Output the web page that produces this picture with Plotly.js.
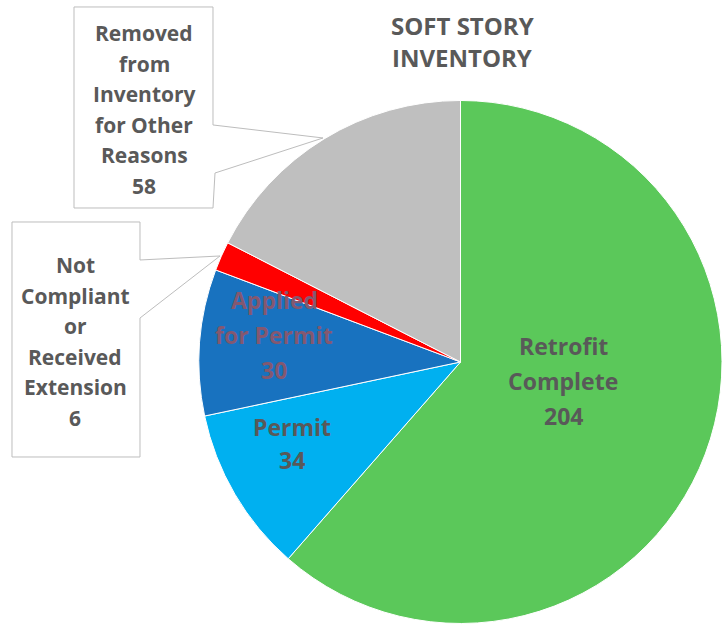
<!DOCTYPE html>
<html>
<head>
<meta charset="utf-8">
<script src="https://cdn.plot.ly/plotly-3.0.1.min.js"></script>
<style>html,body{margin:0;padding:0;background:#fff;}#chart{width:722px;height:628px;}</style>
</head>
<body>
<div id="chart"></div>
<script>
// Data
const categories = ["Retrofit<br>Complete", "Permit", "Applied<br>for Permit", "Not<br>Compliant<br>or<br>Received<br>Extension", "Removed<br>from<br>Inventory<br>for Other<br>Reasons"];
const plainLabels = ["Retrofit Complete", "Permit", "Applied for Permit", "Not Compliant or Received Extension", "Removed from Inventory for Other Reasons"];
const values = [204, 34, 30, 6, 58];
const colors = ["#5BC85A", "#00B0F0", "#1872BF", "#FF0000", "#BFBFBF"];
const titleLines = ["SOFT STORY", "INVENTORY"];

const W = 722, H = 628;
const px = x => x / W;
const py = y => 1 - y / H;
const FONT = "'Open Sans', Lato, sans-serif";

// label placement (pixel: centre x, first line y, line step) and styles
const labelPos = [
  {x: 563, y0: 346, step: 35, size: 23, color: "#595959"},
  {x: 292, y0: 427, step: 33, size: 23, color: "#595959"},
  {x: 274, y0: 300, step: 35, size: 23, color: "#845870"},
  {x: 75,  y0: 265, step: 30.6, size: 21, color: "#595959"},
  {x: 144, y0: 33,  step: 30.6, size: 21, color: "#595959"}
];

const annotations = [];
categories.forEach((c, i) => {
  const lines = c.split("<br>").concat([String(values[i])]);
  const p = labelPos[i];
  lines.forEach((t, k) => {
    annotations.push({
      text: "<b>" + t + "</b>",
      x: px(p.x), y: py(p.y0 + k * p.step),
      xref: "paper", yref: "paper",
      xanchor: "center", yanchor: "middle",
      showarrow: false,
      font: {family: FONT, size: p.size, color: p.color}
    });
  });
});

titleLines.forEach((t, k) => {
  annotations.push({
    text: "<b>" + t + "</b>",
    x: px(462), y: py(25 + k * 33), xref: "paper", yref: "paper",
    xanchor: "center", yanchor: "middle", showarrow: false,
    font: {family: FONT, size: 24, color: "#595959"}
  });
});

function pathFrom(pts) {
  return pts.map((p, i) => (i === 0 ? "M" : "L") + px(p[0]).toFixed(4) + "," + py(p[1]).toFixed(4)).join(" ") + " Z";
}

// callout boxes
const shapes = [
  {
    type: "path", xref: "paper", yref: "paper",
    path: pathFrom([[74, 7], [213, 7], [213, 125], [323, 138], [215, 173], [213, 208], [74, 208]]),
    fillcolor: "#FFFFFF", line: {color: "#BDBDBD", width: 1}, layer: "below"
  },
  {
    type: "path", xref: "paper", yref: "paper",
    path: pathFrom([[12, 222], [140, 222], [140, 260], [220, 256], [140, 318], [140, 457], [12, 457]]),
    fillcolor: "#FFFFFF", line: {color: "#BDBDBD", width: 1}, layer: "below"
  }
];

const data = [{
  type: "pie",
  labels: plainLabels,
  values: values,
  sort: false,
  direction: "clockwise",
  rotation: 0,
  marker: {colors: colors, line: {color: "#FFFFFF", width: 1}},
  textinfo: "none",
  hoverinfo: "label+value",
  domain: {x: [0.2756, 1], y: [0.0064, 0.8408]},
  showlegend: false
}];

const layout = {
  width: W, height: H,
  margin: {l: 0, r: 0, t: 0, b: 0},
  paper_bgcolor: "#FFFFFF",
  showlegend: false,
  annotations: annotations,
  shapes: shapes
};

Plotly.newPlot("chart", data, layout, {displayModeBar: false, staticPlot: true});
</script>
</body>
</html>
